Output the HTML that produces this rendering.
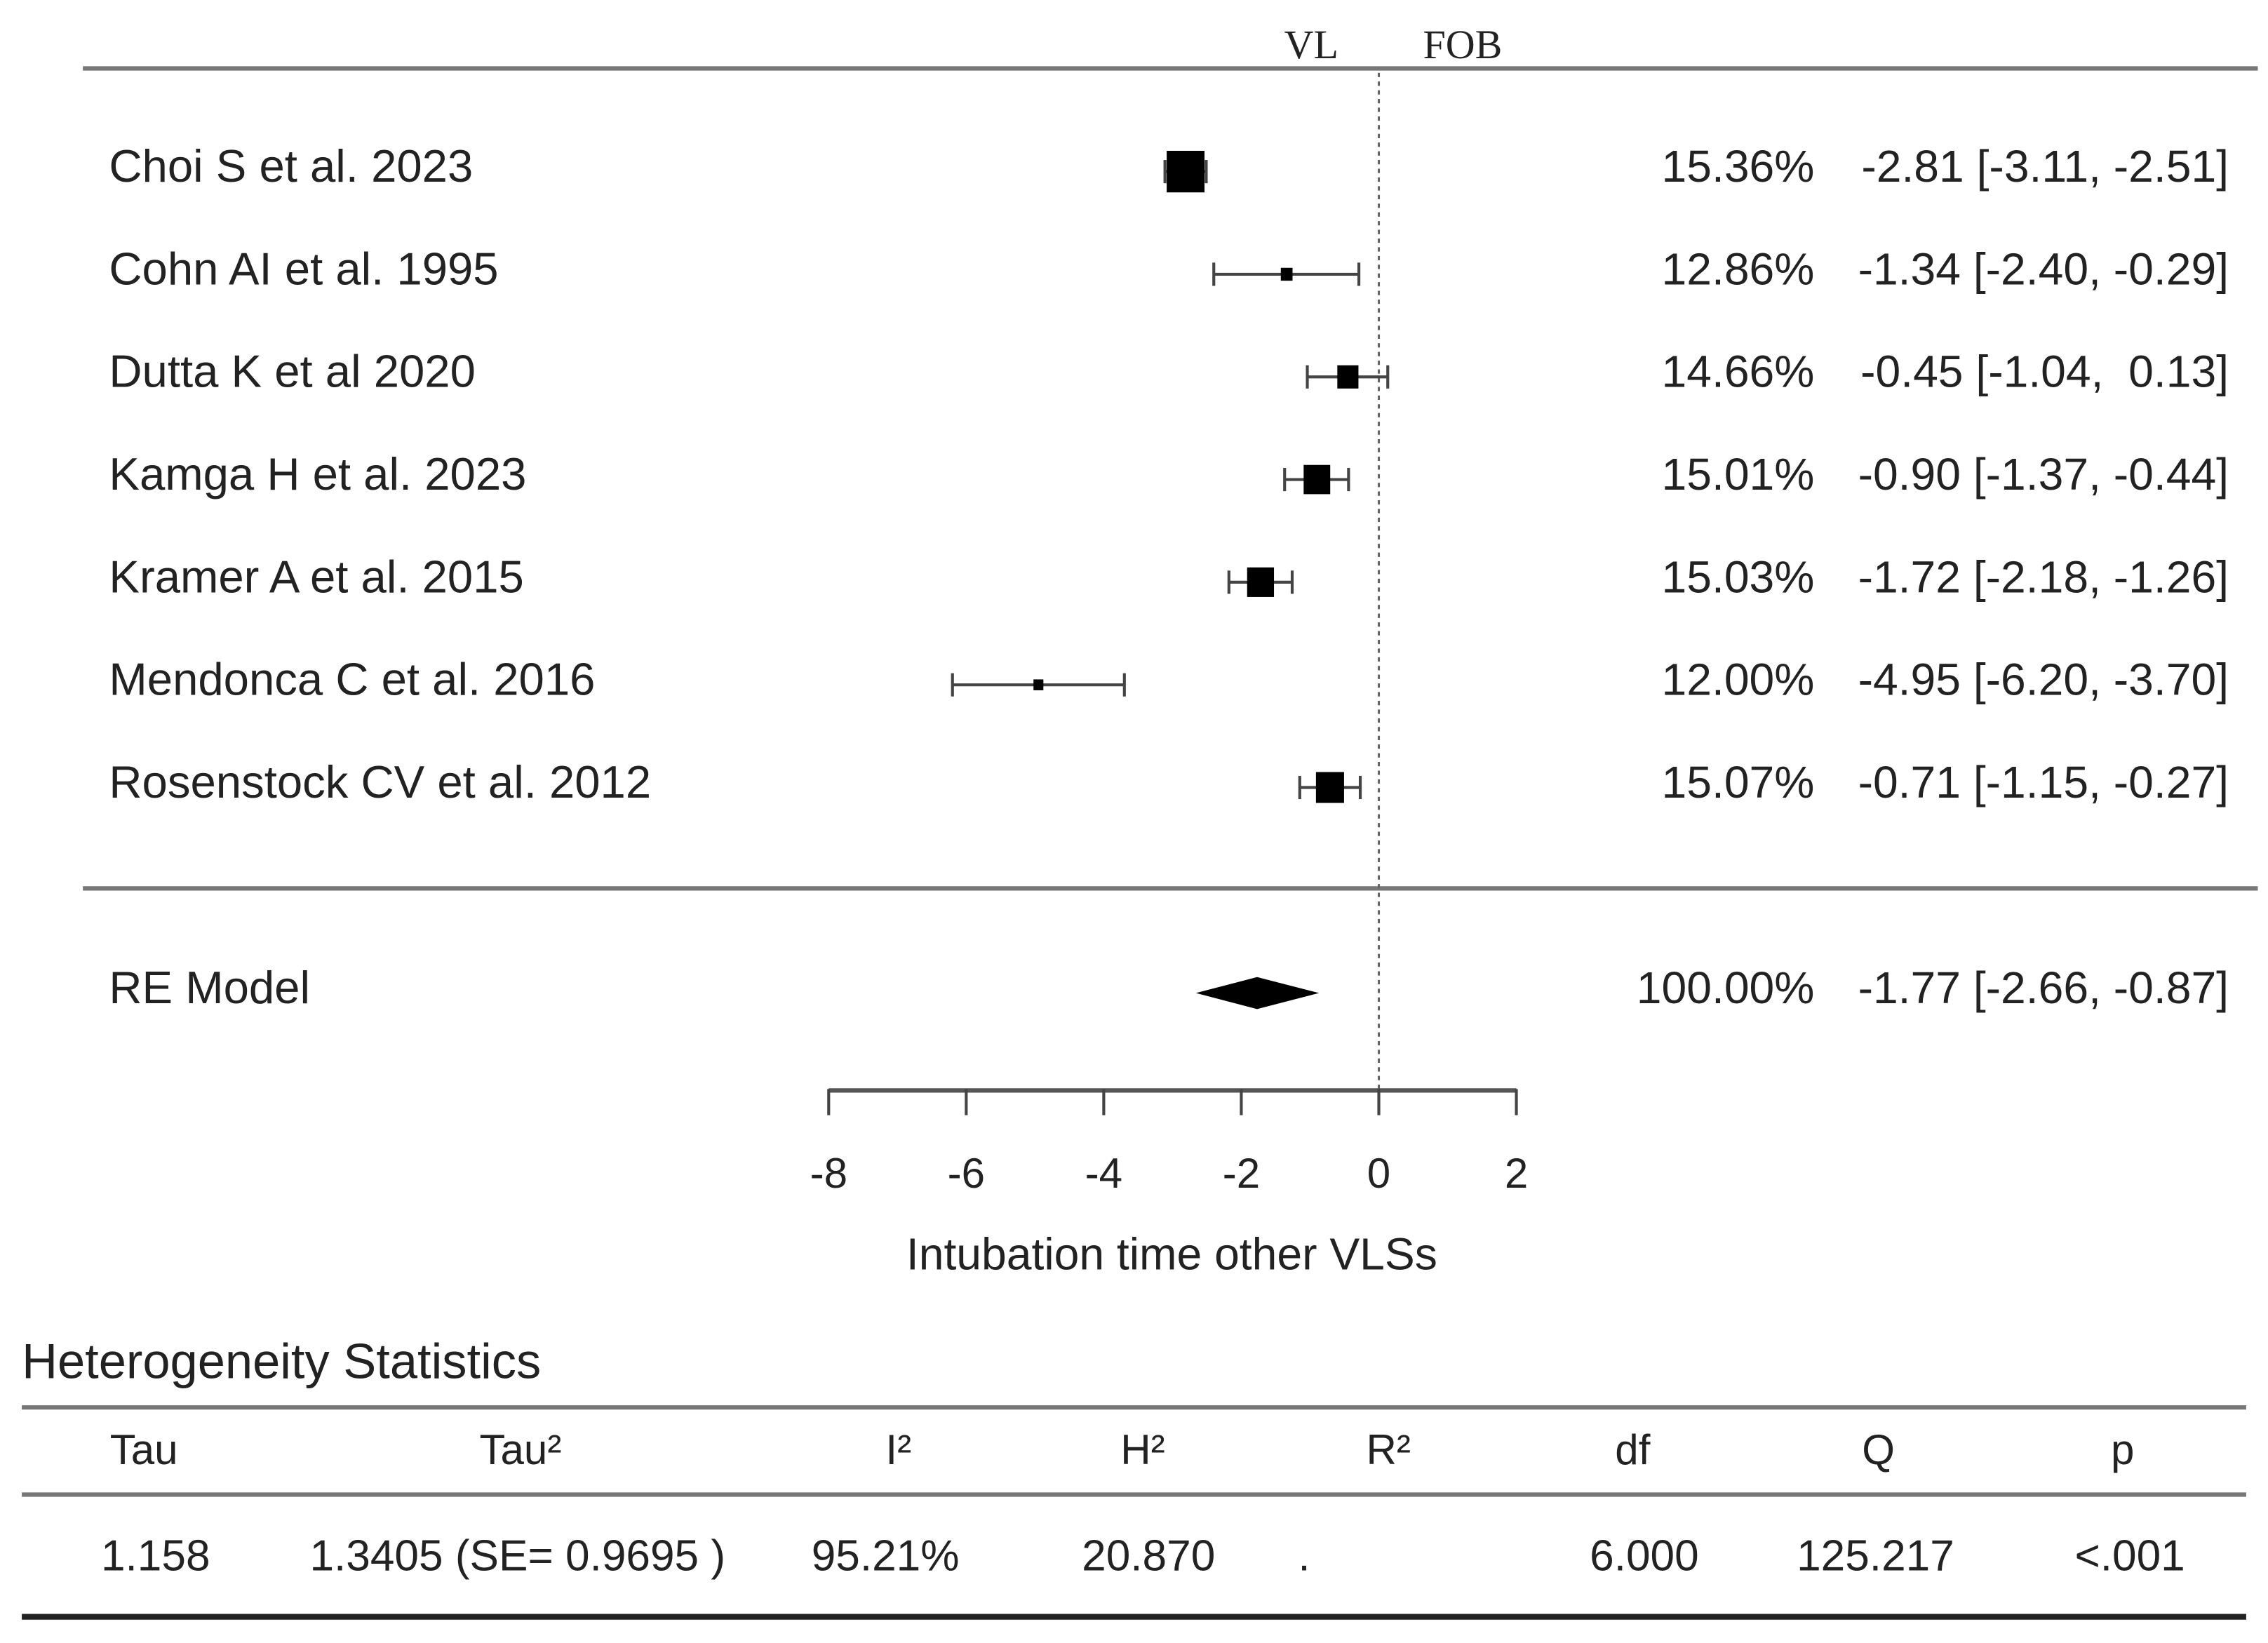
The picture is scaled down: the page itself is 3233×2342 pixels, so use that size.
<!DOCTYPE html>
<html><head><meta charset="utf-8"><style>
html,body{margin:0;padding:0;background:#fff;}
svg{display:block;}
text{font-family:"Liberation Sans",sans-serif;fill:#222;}
</style></head><body>
<svg id="chart" width="3233" height="2342" viewBox="0 0 1560 1130" xmlns="http://www.w3.org/2000/svg">
<g id="static">
  <text x="902" y="40" font-size="28" text-anchor="middle" style="font-family:'Liberation Serif',serif">VL</text>
  <text x="1006" y="40" font-size="28" text-anchor="middle" style="font-family:'Liberation Serif',serif">FOB</text>
  <line x1="57" y1="47" x2="1553" y2="47" stroke="#777" stroke-width="3"/>
  <line x1="57" y1="611" x2="1553" y2="611" stroke="#777" stroke-width="3"/>
  <text x="806" y="873" font-size="31" text-anchor="middle">Intubation time other VLSs</text>
  <text x="15" y="948" font-size="34" fill="#333">Heterogeneity Statistics</text>
  <line x1="15" y1="968" x2="1545" y2="968" stroke="#777" stroke-width="3"/>
  <line x1="15" y1="1028" x2="1545" y2="1028" stroke="#777" stroke-width="3"/>
  <line x1="15" y1="1112" x2="1545" y2="1112" stroke="#222" stroke-width="4"/>
</g>
<g id="marks"></g>
</svg>
<script>
const studies = ["Choi S et al. 2023","Cohn AI et al. 1995","Dutta K et al 2020","Kamga H et al. 2023","Kramer A et al. 2015","Mendonca C et al. 2016","Rosenstock CV et al. 2012"];
const estimates = [-2.81,-1.34,-0.45,-0.90,-1.72,-4.95,-0.71];
const lowers = [-3.11,-2.40,-1.04,-1.37,-2.18,-6.20,-1.15];
const uppers = [-2.51,-0.29,0.13,-0.44,-1.26,-3.70,-0.27];
const weights = ["15.36%","12.86%","14.66%","15.01%","15.03%","12.00%","15.07%"];
const ciLabels = ["-2.81 [-3.11, -2.51]","-1.34 [-2.40, -0.29]","-0.45 [-1.04,  0.13]","-0.90 [-1.37, -0.44]","-1.72 [-2.18, -1.26]","-4.95 [-6.20, -3.70]","-0.71 [-1.15, -0.27]"];
const reEstimate = -1.77, reLower = -2.66, reUpper = -0.87;
const reWeight = "100.00%", reLabel = "-1.77 [-2.66, -0.87]";
const xTicks = [-8,-6,-4,-2,0,2];
const hetHeaders = ["Tau","Tau²","I²","H²","R²","df","Q","p"];
const hetValues = ["1.158","1.3405 (SE= 0.9695 )","95.21%","20.870",".","6.000","125.217","<.001"];

const NS="http://www.w3.org/2000/svg";
const g=document.getElementById('marks');
const X0=570, X1=1043, D0=-8, D1=2;
const xs=v=>X0+(v-D0)*(X1-X0)/(D1-D0);
const rowY=i=>114+i*70.6;
function mk(tag,attrs){const e=document.createElementNS(NS,tag);for(const k in attrs)e.setAttribute(k,attrs[k]);g.appendChild(e);return e;}
function txt(s,x,y,size,anchor){const e=mk('text',{x:x,y:y,'font-size':size,'text-anchor':anchor||'start'});e.textContent=s;e.style.whiteSpace='pre';return e;}

let zl=mk('line',{x1:xs(0),y1:50,x2:xs(0),y2:765,stroke:'#666','stroke-width':1.5,'stroke-dasharray':'3,3'});



studies.forEach((s,i)=>{
  const y=rowY(i);
  let t=txt(s,75,y+11,31.5);
  
  
  let w=txt(weights[i],1248,y+11,31,'end');
  
  
  let c=txt(ciLabels[i],1533,y+11,31,'end');
  
  
  let l=mk('line',{x1:xs(lowers[i]),y1:y+4,x2:xs(uppers[i]),y2:y+4,stroke:'#444','stroke-width':2});
  
  
  [lowers[i],uppers[i]].forEach(v=>{
    let cap=mk('line',{x1:xs(v),y1:y-4,x2:xs(v),y2:y+12,stroke:'#444','stroke-width':2});
    
    
  });
  const sz=Math.max(5,Math.min(26,17/(uppers[i]-lowers[i])));
  let r=mk('rect',{x:xs(estimates[i])-sz/2,y:y+4-sz/2*1.1,width:sz,height:sz*1.1,fill:'#000'});
  
  
});

const ry=683;
let rl=txt("RE Model",75,ry+7,31.5);


let rw=txt(reWeight,1248,ry+7,31,'end');


let rc=txt(reLabel,1533,ry+7,31,'end');


let dia=mk('polygon',{points:`${xs(reLower)},${ry} ${xs(reEstimate)},${ry-11} ${xs(reUpper)},${ry} ${xs(reEstimate)},${ry+11}`,fill:'#000'});



let ax=mk('line',{x1:xs(D0),y1:750,x2:xs(D1),y2:750,stroke:'#555','stroke-width':3});


xTicks.forEach(v=>{
  let tk=mk('line',{x1:xs(v),y1:749,x2:xs(v),y2:767,stroke:'#444','stroke-width':2});
  
  
  let tl=txt(String(v),xs(v),817,29,'middle');
  
  
});

const hdrX=[99,358,618,786,955,1123,1292,1460];
const valX=[107,356,609,790,897,1131,1290,1465];
hetHeaders.forEach((h,i)=>{
  let t=txt(h,hdrX[i],1007,29,'middle');
  t.setAttribute('fill','#333');
  
  
});
hetValues.forEach((h,i)=>{
  let t=txt(h,valX[i],1080,30,'middle');
  t.setAttribute('fill','#333');
  
  
});
</script>
</body></html>
